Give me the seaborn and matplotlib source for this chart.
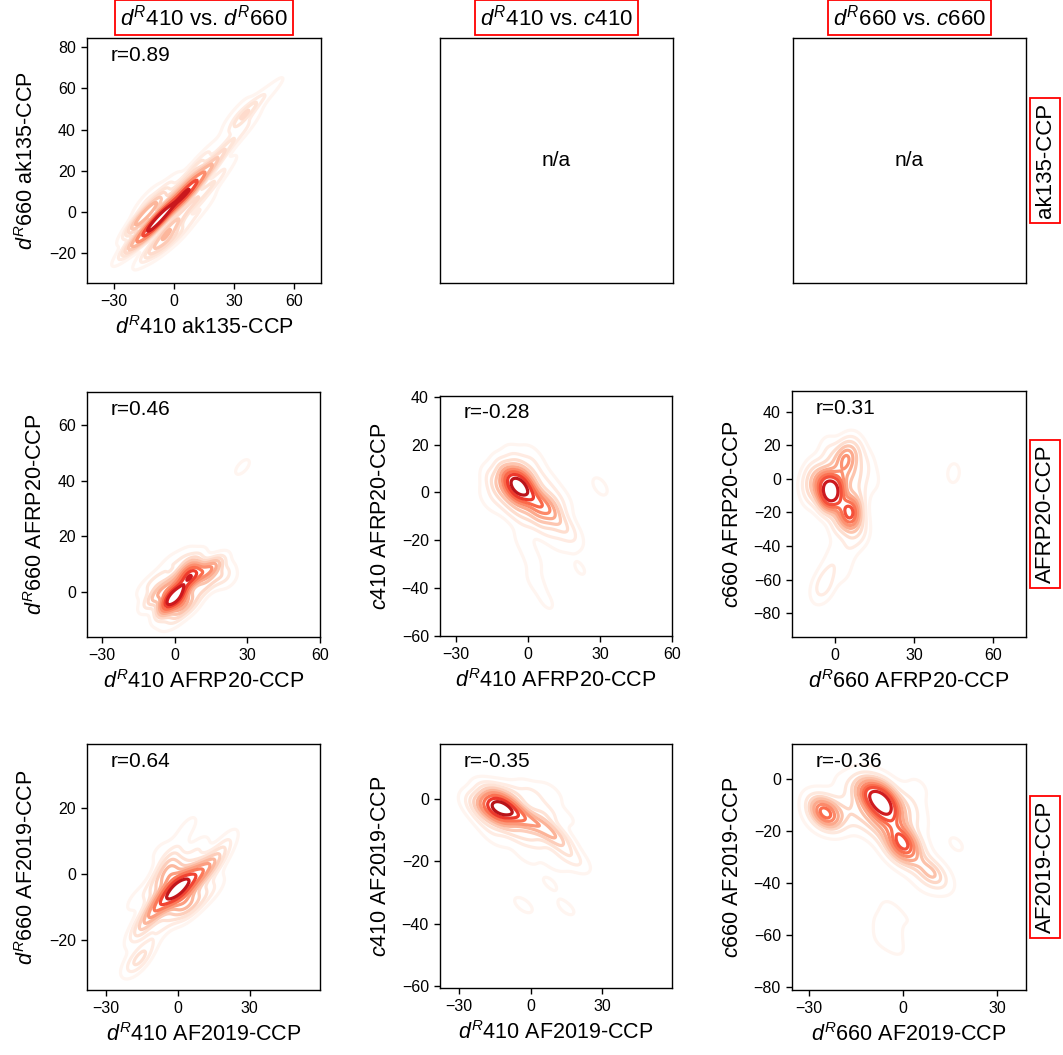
import numpy as np
import pandas as pd
import seaborn as sns
import matplotlib.pyplot as plt
from matplotlib.ticker import MultipleLocator

# ------------------- Data (blob centres) -----------------------------------------------

col_titles = [r"$d^R$410 vs. $d^R$660", r"$d^R$410 vs. $c$410", r"$d^R$660 vs. $c$660"]
row_models = ["ak135-CCP", "AFRP20-CCP", "AF2019-CCP"]

# ak135-CCP : dR410 vs dR660
ak_dr410 = [-7, -13, -1, -12, -2, -17, -3, -19, -9, -20, 4, -14, -24, -14,
            6, 1, 10, 3, 9, -4, 14, -6,
            15, 11, 20, 21, 16, 26, 27, 34, 38, 29, 34, 40, 46, 52, 42, 55, 36]
ak_dr660 = [-3, -9, 3, 1, -8, -4, -14, -14, -17, -6, -10, 6, -18, -20,
            9, 10, 5, 3, 15, 12, 2, 5,
            18, 22, 14, 25, 28, 22, 33, 46, 44, 46, 38, 52, 57, 62, 36, 58, 55]
ak_w = [10, 4, 1.5, 3, 3, 2, 2, 2, 1.5, 1, 1, 1, 0.8, 0.8,
        8, 1.5, 2, 0.3, 2, 1, 1, 0.6,
        2.5, 1.2, 1.2, 1.5, 0.6, 0.6, 1, 2, 0.6, 0.6, 0.6, 0.6, 0.5, 0.4, 0.3, 0.2, 0.3]

# AFRP20-CCP : dR410 vs dR660
afrp_a_x = [0, -3, 3, -3, 3, 6.5, 2, 10, 6, 14, 18, 20, 14, -7, -8, -11, -5, 1, 7, 10, -2, 4, 10,
            -13, 23, -4, 28]
afrp_a_y = [-1.5, -4, -4, 2, 1, 6, 6, 6, 10, 8, 10, 6, 3, -1, 4, -4, -8, -9, -5, 0, 10, 13, 13,
            1, 4, -12, 45]
afrp_a_w = [7, 3, 3, 2, 2, 6, 1.5, 2, 1.5, 3, 1.5, 1.5, 1.2, 2, 1.2, 1, 1.2, 1.2, 1.2, 1, 1,
            0.8, 0.6, 0.6, 0.6, 0.4, 0.75]

# AFRP20-CCP : dR410 vs c410
afrp_b_x = [-4, -8, 0, -5, -3, -9, -12, 1, 3, 7, 3, 10, 11, 15, 18, 6, -2, -8, -14, 2, -5, 8,
            -16, 14, 30, 2, 3, 8, 21.7, -2, 12]
afrp_b_y = [2.5, 4, 1, -2, 7, 9, 1, 7, -3, -6, -8, -5, -11, -14, -18, -14, -10, -6, 5, 14, 14, 4,
            -3, -3, 2.5, -28, -37, -46, -32, -20, -20]
afrp_b_w = [8, 3, 3, 2.5, 2.5, 1.5, 1.5, 1.5, 2.5, 3, 2, 1.5, 1.5, 1, 0.8, 1, 1.2, 1, 1, 0.8, 0.8,
            0.8, 0.6, 0.6, 0.5, 0.5, 0.5, 0.4, 0.4, 0.5, 0.5]

# AFRP20-CCP : dR660 vs c660
afrp_c_x = [-1.5, -5, 2, -3, -4, 1, 5.5, 2, 8, 6, 4, 0, 8, 4, 8, -8, -9, 9, 10, 6, 0, -2, -4, -7,
            4, 12, -3, 6, 15, -11, 45, 1, 3]
afrp_c_y = [-7, -4, -4, -12, 0, -10, -19.5, -16, -23, -27, 13, 10, 15, 5, 1, 3, -8, -10, -32, -38,
            -45, -55, -63, -68, -50, 8, 18, 21, -2, -2, 3.5, -27, -58]
afrp_c_w = [8, 2.5, 2, 2.5, 2, 1.5, 6, 2, 1.5, 1, 3.5, 1.5, 1.5, 1.5, 1.5, 1.5, 1.2, 1, 1, 0.8,
            0.6, 0.7, 1.2, 0.6, 0.5, 0.8, 0.8, 0.5, 0.5, 0.6, 0.7, 1, 0.3]

# AF2019-CCP : dR410 vs dR660
af_a_x = [0, -5, 5, -2, 2, -9, 9, -5, 5, -13, 13, -10, 10, -3, 17, -17, -6, 8, -16, -20, -12, 4,
          21, -18, 16, -8]
af_a_y = [-4.5, -7, -2, 0, -9, -10, 0, 1, -10, -14, 2, -4, -7, 5, 5, -18, -15, 7, -26, -27, -22,
          14, 10, -8, -4, 7]
af_a_w = [8, 3.5, 3.5, 2.5, 2.5, 2.5, 2.5, 1.5, 1.5, 1.8, 1.8, 1.2, 1.2, 1.2, 1.2, 1, 1, 1, 1.5,
          0.5, 0.5, 0.7, 0.7, 0.6, 0.6, 0.5]

# AF2019-CCP : dR410 vs c410
af_b_x = [-13, -9, -17, -13, -13, -21, -6, -1, -7, -18, -19, 4, 8, 12, 6, 1, -6, -24, 0, 8, 15,
          19, 10, -2, -3, 15, 8, -15, 15]
af_b_y = [-3, -3, -3, 1, -7, -2, -5, -7, 1, 2, -7, -8, -11, -13, -4, -13, -11, -3, 2, 2, -17,
          -20, -20, -18, -34, -35, -27, -12, -6]
af_b_w = [8, 3.5, 3, 2, 2, 1.5, 3, 2.5, 1.5, 1, 1, 2, 2, 1.5, 1.2, 1.2, 1.2, 0.6, 1, 0.6, 0.9,
          0.8, 0.6, 0.5, 0.5, 0.45, 0.4, 0.6, 0.4]

# AF2019-CCP : dR660 vs c660
af_c_x = [-7, -10, -4, -8, -6, -3, -1, 0, -3, 3, 0, -25, -22, -19, -15, -13, -12, 2, 3, 4, 9, 12,
          6, 17, -5, -4, -2, -8, -11, -7, -28, -18, 5, 3]
af_c_y = [-9, -7, -10, -14, -4, -16, -21, -25, -27, -24, -30, -13, -10, -14, -11, -5, -17, -9,
          -15, -31, -36, -38, -40, -25, -57, -50, -65, -62, -2, -20, -16, -3, -3, -55]
af_c_w = [7, 3, 3, 2.5, 2.5, 2.5, 2, 5, 1.5, 1.5, 1.2, 7, 1, 1.2, 1.5, 1.5, 1, 1.2, 1, 1, 3,
          0.5, 0.4, 0.5, 0.8, 0.5, 0.4, 0.3, 1.5, 1.2, 0.6, 0.6, 0.5, 0.3]

r_values = {(0, 0): "0.89", (1, 0): "0.46", (1, 1): "-0.28", (1, 2): "0.31",
            (2, 0): "0.64", (2, 1): "-0.35", (2, 2): "-0.36"}

# ------------------- Panel setup --------------------

panels = {
    (0, 0): (ak_dr410, ak_dr660, ak_w, 0.33),
    (1, 0): (afrp_a_x, afrp_a_y, afrp_a_w, 0.38),
    (1, 1): (afrp_b_x, afrp_b_y, afrp_b_w, 0.42),
    (1, 2): (afrp_c_x, afrp_c_y, afrp_c_w, 0.35),
    (2, 0): (af_a_x, af_a_y, af_a_w, 0.42),
    (2, 1): (af_b_x, af_b_y, af_b_w, 0.4),
    (2, 2): (af_c_x, af_c_y, af_c_w, 0.33),
}

limits = {
    (0, 0): ((-43.5, 73.5), (-34.5, 84.5)),
    (1, 0): ((-36.2, 60), (-16.2, 72)),
    (1, 1): ((-36.7, 60), (-60, 40.3)),
    (1, 2): ((-16.3, 72.5), (-94.3, 52.5)),
    (2, 0): ((-38, 59.5), (-35.2, 39.4)),
    (2, 1): ((-38, 59.3), (-60.5, 17.5)),
    (2, 2): ((-35.4, 39.3), (-81, 13.5)),
}

# axes boxes in pixels: left, top, right, bottom
boxes = {
    (0, 0): (87, 38, 321, 283), (0, 1): (440, 38, 673, 283), (0, 2): (793, 38, 1026, 283),
    (1, 0): (87, 392, 320, 637), (1, 1): (440, 396, 672, 636), (1, 2): (792, 391, 1026, 637),
    (2, 0): (87, 744, 320, 990), (2, 1): (440, 744, 672, 988), (2, 2): (792, 744, 1026, 990),
}

W, H = 1063, 1055

sns.set_style("ticks")
plt.rcParams['font.family'] = ['Liberation Sans', 'DejaVu Sans']
plt.rcParams['mathtext.fontset'] = 'custom'
plt.rcParams['mathtext.rm'] = 'Liberation Sans'
plt.rcParams['mathtext.it'] = 'Liberation Sans:italic'
plt.rcParams['axes.linewidth'] = 1.0
plt.rcParams['axes.edgecolor'] = 'black'
for key in ['text.color', 'axes.labelcolor', 'xtick.color', 'ytick.color']:
    plt.rcParams[key] = 'black'

fig = plt.figure(figsize=(W / 100, H / 100), dpi=100)

red_box = dict(boxstyle='square,pad=0.22', facecolor='none', edgecolor='red', linewidth=1.3)

for (i, j), (l, t, r, b) in boxes.items():
    ax = fig.add_axes([l / W, 1 - b / H, (r - l) / W, (b - t) / H])
    model = row_models[i]

    if (i, j) in panels:
        x, y, w, bw = panels[(i, j)]
        df = pd.DataFrame({'x': x, 'y': y, 'w': w})
        sns.kdeplot(data=df, x='x', y='y', weights='w', bw_method=bw, levels=10,
                    cmap='Reds', linewidths=2.3, ax=ax)
        xl, yl = limits[(i, j)]
        ax.set_xlim(xl)
        ax.set_ylim(yl)
        ax.xaxis.set_major_locator(MultipleLocator(30))
        ax.yaxis.set_major_locator(MultipleLocator(20))
        ax.tick_params(labelsize=11.5, length=4.5, width=1, color='black')
        ax.text(0.1, 0.93, "r=" + r_values[(i, j)], transform=ax.transAxes,
                fontsize=15, va='center', ha='left')
        xname = r"$d^R$410" if j < 2 else r"$d^R$660"
        yname = [r"$d^R$660", r"$c$410", r"$c$660"][j]
        ax.set_xlabel(f"{xname} {model}", fontsize=15.5, labelpad=5)
        ax.set_ylabel(f"{yname} {model}", fontsize=15.5, labelpad=8)
    else:
        ax.set_xticks([])
        ax.set_yticks([])
        ax.text(0.5, 0.5, "n/a", transform=ax.transAxes, fontsize=15, ha='center', va='center')
        ax.set_xlabel("")
        ax.set_ylabel("")

    if i == 0:
        ax.set_title(col_titles[j], fontsize=16, bbox=red_box, pad=9)
    if j == 2:
        fig.text(1045 / W, 1 - (t + b) / 2 / H, model, rotation=90, fontsize=16,
                 ha='center', va='center', bbox=red_box)

fig.savefig("out.png", dpi=100)
